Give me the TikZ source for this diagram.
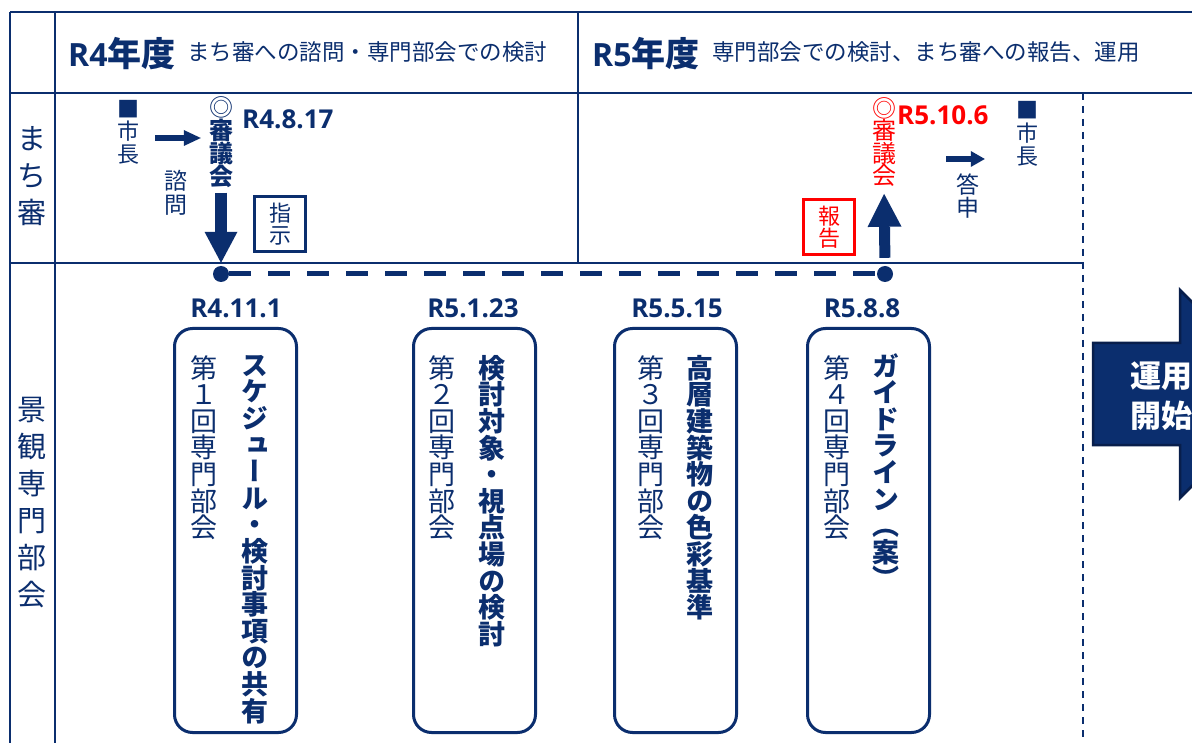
\documentclass[tikz,border=0pt]{standalone}
\usepackage{fontspec}
\setmainfont{Noto Sans CJK JP}
\newfontfamily\vjp{Noto Sans CJK JP}[RawFeature=+vert]
\newfontfamily\lat{Open Sans}
\usetikzlibrary{arrows.meta}
\definecolor{nv}{RGB}{11,46,110}
\definecolor{nvd}{RGB}{8,30,75}
\definecolor{rd}{RGB}{255,0,0}
\begin{document}
\begin{tikzpicture}[x=1pt,y=-1pt,
  tl/.style={draw=nv,line width=1.8pt},
  vt/.style={inner sep=0pt,align=center,anchor=north,text=nv},
  vbox/.style={vt,font=\vjp\fontsize{27pt}{26.6pt}\selectfont},
  vboxb/.style={vt,font=\vjp\bfseries\fontsize{27pt}{26.6pt}\selectfont},
  kbox/.style={draw=nv,line width=3pt,rounded corners=18pt,minimum width=122pt,minimum height=404pt,inner sep=0pt},
  dt/.style={text=nv,inner sep=0pt,font=\lat\bfseries\fontsize{26pt}{26pt}\selectfont},
  dot/.style={circle,fill=nv,inner sep=0pt,minimum size=16pt},
  tagbox/.style={draw=nv,line width=3pt,minimum width=51pt,minimum height=55pt,inner sep=0pt,align=center,text=nv,font=\fontsize{22pt}{22pt}\selectfont},
  bigarr/.style={draw=nv,line width=12pt,-{Triangle[width=33pt,length=31pt,line width=0pt]}},
  smarr/.style={draw=nv,line width=5.5pt,-{Triangle[width=16pt,length=17pt,line width=0pt]}},
  smarrb/.style={draw=nv,line width=5.5pt,-{Triangle[width=16pt,length=14pt,line width=0pt]}}
]
\useasboundingbox (0,0) rectangle (1192,743);
\clip (0,0) rectangle (1192,743);
\fill[white] (0,0) rectangle (1192,743);

% table lines
\draw[tl] (10,12) -- (1192,12);
\draw[tl] (10,93) -- (1192,93);
\draw[tl] (10,263) -- (1083,263);
\draw[tl] (10,12) -- (10,743);
\draw[tl] (55,12) -- (55,743);
\draw[tl] (578,12) -- (578,263);
\draw[draw=nv,line width=1.5pt,dash pattern=on 7pt off 6pt] (1083,93) -- (1083,743);

% headers
\node[anchor=west,inner sep=0pt,text=nv] (h4) at (68,54) {{\lat\bfseries\fontsize{32pt}{32pt}\selectfont R4}{\bfseries\fontsize{34pt}{34pt}\selectfont 年度}};
\node[anchor=west,inner sep=0pt,text=nv,font=\fontsize{22.5pt}{22.5pt}\selectfont] (h4s) at (187,52) {まち審への諮問・専門部会での検討};
\node[anchor=west,inner sep=0pt,text=nv] (h5) at (592,54) {{\lat\bfseries\fontsize{32pt}{32pt}\selectfont R5}{\bfseries\fontsize{34pt}{34pt}\selectfont 年度}};
\node[anchor=west,inner sep=0pt,text=nv,font=\fontsize{22.5pt}{22.5pt}\selectfont] (h5s) at (712,52) {専門部会での検討、まち審への報告、運用};

% left column
\node[vt,anchor=center,font=\fontsize{29pt}{37pt}\selectfont] (lc1) at (32,176) {ま\\ち\\審};
\node[vt,anchor=center,font=\fontsize{29pt}{37pt}\selectfont] (lc2) at (32,503) {景\\観\\専\\門\\部\\会};

% machi-shin row, left part
\node[vt,font=\fontsize{22pt}{22.5pt}\selectfont] (shiL) at (128,100) {■\\市\\長};
\node[vt,font=\fontsize{23pt}{24pt}\selectfont] (shimon) at (176,170) {諮\\問};
\node[vt,font=\bfseries\fontsize{24pt}{23pt}\selectfont] (sgL) at (221,96) {{\mdseries ◎}\\審\\議\\会};
\node[dt,anchor=west] (dL) at (242,119.5) {R4.8.17};
\node[tagbox] (shiji) at (280,224) {指\\示};

% machi-shin row, right part
\node[vt,text=rd,font=\fontsize{24pt}{22.5pt}\selectfont] (sgR) at (884,97) {◎\\審\\議\\会};
\node[dt,anchor=west,text=rd] (dR) at (897,115) {R5.10.6};
\node[tagbox,draw=rd,text=rd] (hokoku) at (829,227) {報\\告};
\node[vt,font=\fontsize{23pt}{22.5pt}\selectfont] (toshin) at (968,174) {答\\申};
\node[vt,font=\fontsize{22pt}{23pt}\selectfont] (shiR) at (1027,101) {■\\市\\長};

% timeline dots
\node[dot] (d1) at (221,274) {};
\node[dot] (d2) at (885,274) {};
\draw[draw=nv,line width=5pt,dash pattern=on 22pt off 17pt] (d1) -- (d2);

% arrows
\coordinate (ya) at (0,138);
\coordinate (yb) at (0,159);
\draw[smarr,shorten <=16pt,shorten >=8pt] (shiL.east |- ya) -- (sgL.west |- ya);
\draw[bigarr,shorten <=5pt,shorten >=3pt] (sgL.south) -- (d1.north);
\draw[bigarr,line width=11pt,-{Triangle[width=34pt,length=33pt,line width=0pt]},shorten <=8pt,shorten >=7pt] (d2.north) -- (sgR.south);
\draw[smarrb,shorten <=50pt,shorten >=31pt] (sgR.east |- yb) -- (shiR.west |- yb);

% dates of sub-committee meetings
\node[dt] (t1) at (236,308) {R4.11.1};
\node[dt] (t2) at (473,308) {R5.1.23};
\node[dt] (t3) at (677,308) {R5.5.15};
\node[dt] (t4) at (862,308) {R5.8.8};

% boxes
\node[kbox] (b1) at (235.5,530.5) {};
\node[kbox] (b2) at (474.5,530.5) {};
\node[kbox] (b3) at (675.5,530.5) {};
\node[kbox] (b4) at (868.5,530.5) {};

\node[vbox] (n1) at (204,355) {第\\１\\回\\専\\門\\部\\会};
\node[vboxb] (m1) at (255,355) {ス\\ケ\\ジ\\ュ\\ー\\ル\\・\\検\\討\\事\\項\\の\\共\\有};
\node[vbox] (n2) at (442,355) {第\\２\\回\\専\\門\\部\\会};
\node[vboxb] (m2) at (492,355) {検\\討\\対\\象\\・\\視\\点\\場\\の\\検\\討};
\node[vbox] (n3) at (651,355) {第\\３\\回\\専\\門\\部\\会};
\node[vboxb] (m3) at (700,355) {高\\層\\建\\築\\物\\の\\色\\彩\\基\\準};
\node[vbox] (n4) at (837,355) {第\\４\\回\\専\\門\\部\\会};
\node[vboxb] (m4) at (886,353) {ガ\\イ\\ド\\ラ\\イ\\ン\\（\\案\\）};

% start of operation arrow
\draw[fill=nv,draw=nvd,line width=2.5pt] (1093,343) -- (1180,343) -- (1180,290) -- (1284,394) -- (1180,498) -- (1180,445) -- (1093,445) -- cycle;
\node[inner sep=0pt,align=center,text=white,font=\bfseries\fontsize{31pt}{40pt}\selectfont] (unyo) at (1161,396.5) {運用\\開始};
\end{tikzpicture}
\end{document}
